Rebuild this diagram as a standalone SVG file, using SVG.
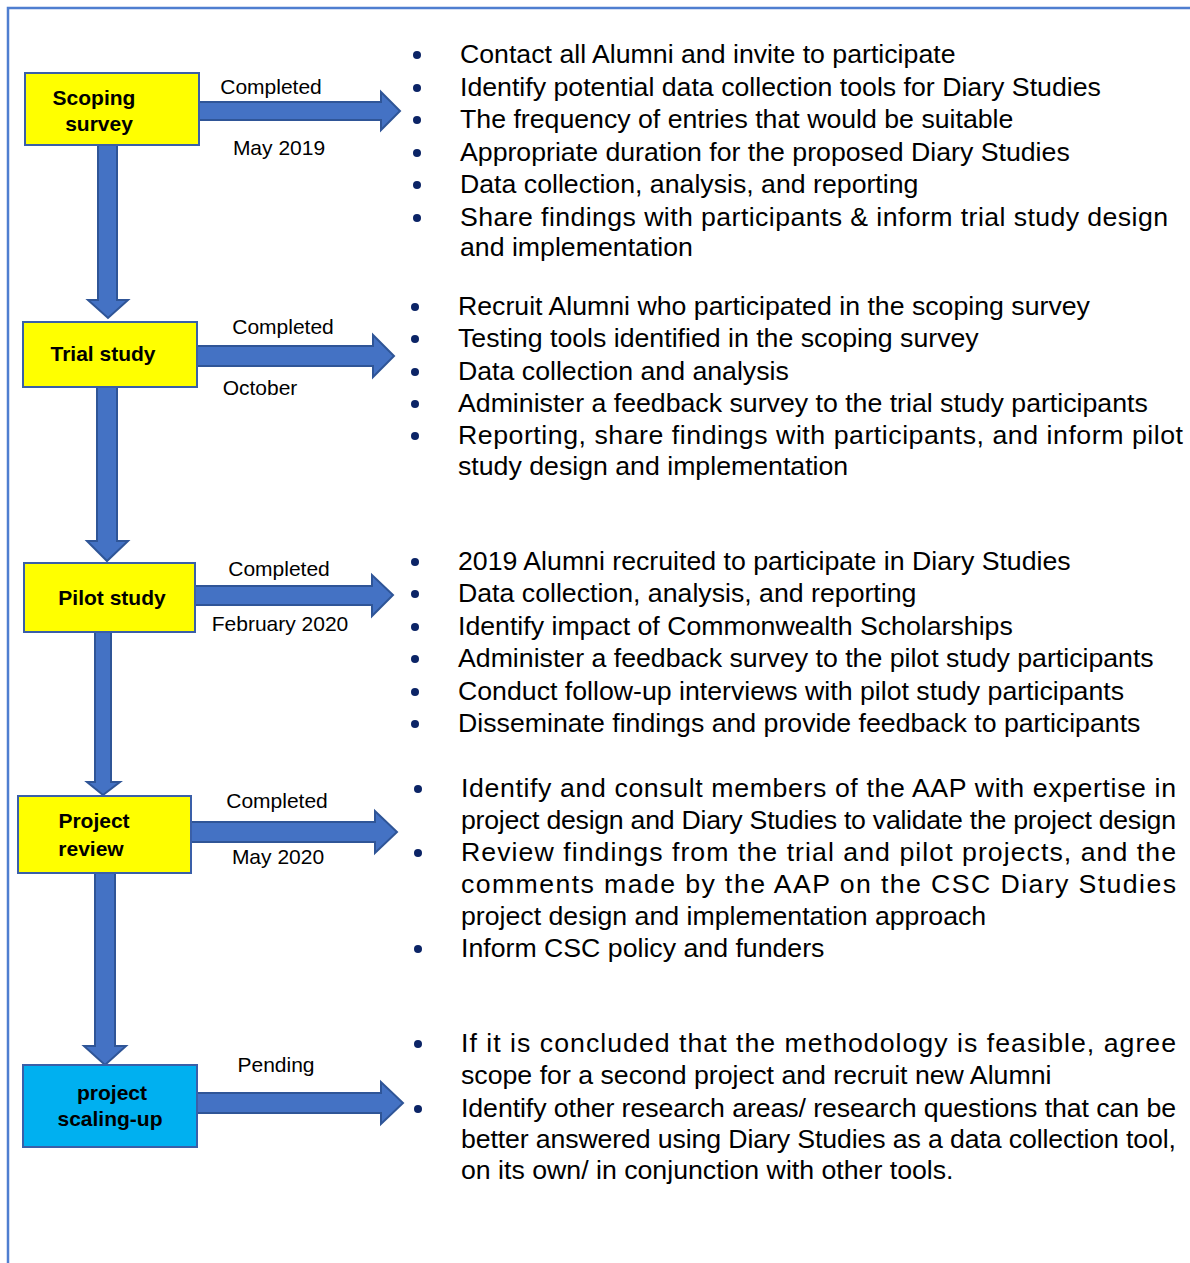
<svg xmlns="http://www.w3.org/2000/svg" width="1190" height="1263" viewBox="0 0 1190 1263">
<style>
.box{stroke:#3A5FA8;stroke-width:2}
.y{fill:#FFFF00}
.c{fill:#00B0F0}
.arr{fill:#4472C4;stroke:#2F5597;stroke-width:2;stroke-linejoin:miter}
.bl{font-family:"Liberation Sans",Arial,sans-serif;font-weight:bold;font-size:21px;fill:#000;text-anchor:middle}
.lb{font-family:"Liberation Sans",Arial,sans-serif;font-size:21px;fill:#000;text-anchor:middle}
.tx{font-family:"Liberation Sans",Arial,sans-serif;font-size:26.7px;fill:#000}
.bu{fill:#0B2466}
</style>
<rect width="1190" height="1263" fill="#fff"/>
<path d="M8,1263 V8 H1190" fill="none" stroke="#4F7ED0" stroke-width="2.5"/>

<g id="connectors">
<polygon class="arr" points="199,102 381,102 381,92 400,111 381,130 381,120 199,120"/>
<polygon class="arr" points="197,346 373,346 373,335 394,356 373,377 373,366 197,366"/>
<polygon class="arr" points="195,586 372,586 372,575 393,595 372,616 372,605 195,605"/>
<polygon class="arr" points="191,822 375,822 375,811 397,832 375,853 375,842 191,842"/>
<polygon class="arr" points="197,1093 381,1093 381,1082 403,1103 381,1124 381,1113 197,1113"/>
<polygon class="arr" points="98,145 117,145 117,300 128,300 108,318 88,300 98,300"/>
<polygon class="arr" points="97,387 117,387 117,541 128,541 107,561 87,541 97,541"/>
<polygon class="arr" points="95,632 111,632 111,782 120,782 103,795 87,782 95,782"/>
<polygon class="arr" points="95,873 115,873 115,1046 126,1046 105,1065 84,1046 95,1046"/>
<text class="lb" x="271" y="94">Completed</text>
<text class="lb" x="279" y="155">May 2019</text>
<text class="lb" x="283" y="334">Completed</text>
<text class="lb" x="260" y="395">October</text>
<text class="lb" x="279" y="576">Completed</text>
<text class="lb" x="280" y="631">February 2020</text>
<text class="lb" x="277" y="808">Completed</text>
<text class="lb" x="278" y="864">May 2020</text>
<text class="lb" x="276" y="1072">Pending</text>
</g>

<g id="scoping">
<rect class="box y" x="25" y="73" width="174" height="72"/>
<text class="bl" x="94" y="105">Scoping</text>
<text class="bl" x="99" y="131">survey</text>
</g>
<g id="trial">
<rect class="box y" x="23" y="322" width="174" height="65"/>
<text class="bl" x="103" y="361">Trial study</text>
</g>
<g id="pilot">
<rect class="box y" x="24" y="563" width="171" height="69"/>
<text class="bl" x="112" y="605">Pilot study</text>
</g>
<g id="review">
<rect class="box y" x="18" y="796" width="173" height="77"/>
<text class="bl" x="94" y="828">Project</text>
<text class="bl" x="91" y="856">review</text>
</g>
<g id="scaling">
<rect class="box c" x="23" y="1065" width="174" height="82"/>
<text class="bl" x="112" y="1100">project</text>
<text class="bl" x="110" y="1126">scaling-up</text>
</g>

<g id="list-scoping">
<circle class="bu" cx="417" cy="55" r="4"/>
<circle class="bu" cx="417" cy="88" r="4"/>
<circle class="bu" cx="417" cy="120" r="4"/>
<circle class="bu" cx="417" cy="153" r="4"/>
<circle class="bu" cx="417" cy="185" r="4"/>
<circle class="bu" cx="417" cy="218" r="4"/>
<text class="tx" x="460" y="63">Contact all Alumni and invite to participate</text>
<text class="tx" x="460" y="96">Identify potential data collection tools for Diary Studies</text>
<text class="tx" x="460" y="128">The frequency of entries that would be suitable</text>
<text class="tx" x="460" y="161">Appropriate duration for the proposed Diary Studies</text>
<text class="tx" x="460" y="193">Data collection, analysis, and reporting</text>
<text class="tx" x="460" y="226" textLength="708" lengthAdjust="spacing">Share findings with participants &amp; inform trial study design</text>
<text class="tx" x="460" y="256">and implementation</text>
</g>

<g id="list-trial">
<circle class="bu" cx="415" cy="307" r="4"/>
<circle class="bu" cx="415" cy="339" r="4"/>
<circle class="bu" cx="415" cy="372" r="4"/>
<circle class="bu" cx="415" cy="404" r="4"/>
<circle class="bu" cx="415" cy="436" r="4"/>
<text class="tx" x="458" y="315">Recruit Alumni who participated in the scoping survey</text>
<text class="tx" x="458" y="347">Testing tools identified in the scoping survey</text>
<text class="tx" x="458" y="380">Data collection and analysis</text>
<text class="tx" x="458" y="412">Administer a feedback survey to the trial study participants</text>
<text class="tx" x="458" y="444" textLength="725" lengthAdjust="spacing">Reporting, share findings with participants, and inform pilot</text>
<text class="tx" x="458" y="475">study design and implementation</text>
</g>

<g id="list-pilot">
<circle class="bu" cx="415" cy="562" r="4"/>
<circle class="bu" cx="415" cy="594" r="4"/>
<circle class="bu" cx="415" cy="627" r="4"/>
<circle class="bu" cx="415" cy="659" r="4"/>
<circle class="bu" cx="415" cy="692" r="4"/>
<circle class="bu" cx="415" cy="724" r="4"/>
<text class="tx" x="458" y="570">2019 Alumni recruited to participate in Diary Studies</text>
<text class="tx" x="458" y="602">Data collection, analysis, and reporting</text>
<text class="tx" x="458" y="635">Identify impact of Commonwealth Scholarships</text>
<text class="tx" x="458" y="667">Administer a feedback survey to the pilot study participants</text>
<text class="tx" x="458" y="700">Conduct follow-up interviews with pilot study participants</text>
<text class="tx" x="458" y="732">Disseminate findings and provide feedback to participants</text>
</g>

<g id="list-review">
<circle class="bu" cx="418" cy="789" r="4"/>
<circle class="bu" cx="418" cy="853" r="4"/>
<circle class="bu" cx="418" cy="949" r="4"/>
<text class="tx" x="461" y="797" textLength="715" lengthAdjust="spacing">Identify and consult members of the AAP with expertise in</text>
<text class="tx" x="461" y="829" textLength="715" lengthAdjust="spacing">project design and Diary Studies to validate the project design</text>
<text class="tx" x="461" y="861" textLength="715" lengthAdjust="spacing">Review findings from the trial and pilot projects, and the</text>
<text class="tx" x="461" y="893" textLength="715" lengthAdjust="spacing">comments made by the AAP on the CSC Diary Studies</text>
<text class="tx" x="461" y="925">project design and implementation approach</text>
<text class="tx" x="461" y="957">Inform CSC policy and funders</text>
</g>

<g id="list-scaling">
<circle class="bu" cx="418" cy="1044" r="4"/>
<circle class="bu" cx="418" cy="1109" r="4"/>
<text class="tx" x="461" y="1052" textLength="715" lengthAdjust="spacing">If it is concluded that the methodology is feasible, agree</text>
<text class="tx" x="461" y="1084">scope for a second project and recruit new Alumni</text>
<text class="tx" x="461" y="1117" textLength="715" lengthAdjust="spacing">Identify other research areas/ research questions that can be</text>
<text class="tx" x="461" y="1148" textLength="715" lengthAdjust="spacing">better answered using Diary Studies as a data collection tool,</text>
<text class="tx" x="461" y="1179">on its own/ in conjunction with other tools.</text>
</g>
</svg>
